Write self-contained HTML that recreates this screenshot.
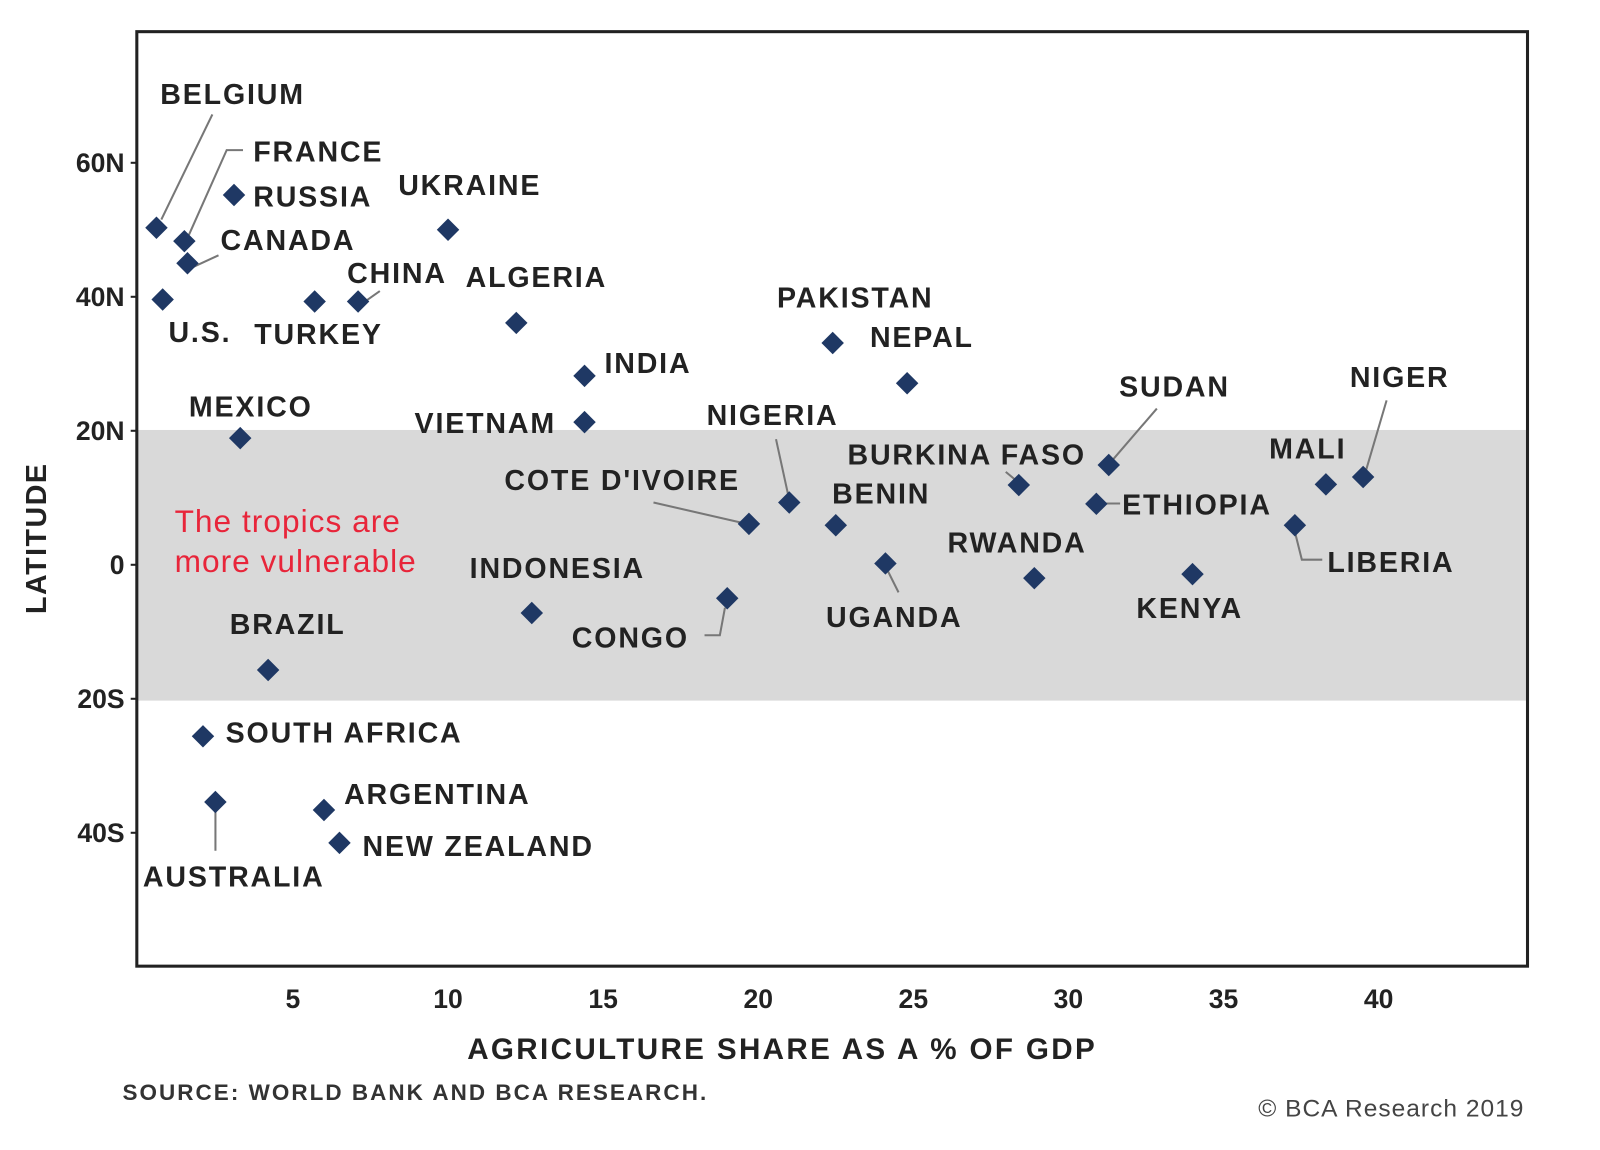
<!DOCTYPE html>
<html><head><meta charset="utf-8"><style>
html,body{margin:0;padding:0;background:#fff}
svg{display:block}
text{font-family:"Liberation Sans",Arial,sans-serif}
.lb{font-weight:bold;font-size:28px;fill:#222;letter-spacing:1.8px}
.ld{stroke:#777;stroke-width:2;fill:none}
</style></head><body>
<svg id="chart" width="1600" height="1150" viewBox="0 0 1567 1126" preserveAspectRatio="none" xmlns="http://www.w3.org/2000/svg">
<rect x="135" y="421" width="1361" height="265" fill="#d9d9d9"/>
<g id="yaxis"></g>
<g id="xaxis"></g>
<g>
<path class="ld" d="M208,112 L158,215"/>
<path class="ld" d="M238,147 L222,147 L185,230"/>
<path class="ld" d="M214,250 L188,262"/>
<path class="ld" d="M372,285 L355,297"/>
<path class="ld" d="M760,430 L772,485"/>
<path class="ld" d="M640,492 L727,512"/>
<path class="ld" d="M985,462 L997,472"/>
<path class="ld" d="M1133,400 L1090,450"/>
<path class="ld" d="M1358,392 L1338,460"/>
<path class="ld" d="M1078,493 L1097,493"/>
<path class="ld" d="M1268,520 L1275,548 L1295,548"/>
<path class="ld" d="M868,556 L880,580"/>
<path class="ld" d="M690,622 L705,622 L710,595"/>
<path class="ld" d="M211,793 L211,833"/>
</g>
<g id="marks"></g>
<g id="labels"></g>
<rect x="134" y="31" width="1362" height="915" fill="none" stroke="#222" stroke-width="3"/>
<text x="171" y="521" font-size="31" letter-spacing="1" fill="#e8253a">The tropics are</text>
<text x="171" y="560" font-size="31" letter-spacing="1" fill="#e8253a">more vulnerable</text>
<text transform="translate(45,527) rotate(-90)" text-anchor="middle" font-size="28" font-weight="bold" letter-spacing="1.5" fill="#222">LATITUDE</text>
<text x="766" y="1037" text-anchor="middle" font-size="29" font-weight="bold" letter-spacing="2.3" fill="#222">AGRICULTURE SHARE AS A % OF GDP</text>
<text x="120" y="1077" font-size="22" font-weight="bold" letter-spacing="2" fill="#333">SOURCE: WORLD BANK AND BCA RESEARCH.</text>
<text x="1493" y="1093" text-anchor="end" font-size="24" letter-spacing="1" fill="#444">© BCA Research 2019</text>
</svg>
<script>
const countries=["BELGIUM","FRANCE","CANADA","RUSSIA","U.S.","TURKEY","CHINA","UKRAINE","ALGERIA","INDIA","VIETNAM","MEXICO","PAKISTAN","NEPAL","NIGERIA","COTE D'IVOIRE","BENIN","UGANDA","BURKINA FASO","SUDAN","ETHIOPIA","RWANDA","KENYA","MALI","NIGER","LIBERIA","INDONESIA","CONGO","BRAZIL","SOUTH AFRICA","AUSTRALIA","ARGENTINA","NEW ZEALAND"];
const agriShare=[0.6,1.5,1.6,3.1,0.8,5.7,7.1,10.0,12.2,14.4,14.4,3.3,22.4,24.8,21.0,19.7,22.5,24.1,28.4,31.3,30.9,28.9,34.0,38.3,39.5,37.3,12.7,19.0,4.2,2.1,2.5,6.0,6.5];
const latitude=[50.3,48.3,45,55.2,39.6,39.3,39.3,50,36.1,28.2,21.3,18.9,33.1,27.1,9.3,6.1,5.9,0.2,11.9,14.9,9.1,-2,-1.4,12.0,13.1,5.9,-7.2,-5.0,-15.7,-25.6,-35.4,-36.6,-41.5];
const xTicks=[5,10,15,20,25,30,35,40];
const yTicks=[60,40,20,0,-20,-40];
const yTickLabels=["60N","40N","20N","0","20S","40S"];
const labelPos=[[157,102],[248,158],[216,245],[248,202],[165,335],[249,337],[340,277],[390,191],[456,281],[592,365],[406,424],[185,408],[761,301],[852,340],[692,416],[494,480],[815,493],[809,614],[830,455],[1096,388],[1099,504],[928,541],[1113,605],[1243,449],[1322,379],[1300,560],[460,566],[560,634],[225,621],[221,727],[140,868],[337,787],[355,838]];
const NS="http://www.w3.org/2000/svg";
function xS(v){return 135+v*30.38;}
function yS(v){return 553-v*6.56;}
function mk(t,a){const e=document.createElementNS(NS,t);for(const k in a)e.setAttribute(k,a[k]);return e;}
const ya=document.getElementById('yaxis'),xa=document.getElementById('xaxis'),mg=document.getElementById('marks'),lg=document.getElementById('labels');
yTicks.forEach((v,i)=>{
 const t=mk('line',{x1:128,x2:135,y1:yS(v),y2:yS(v),stroke:'#222','stroke-width':2});
 
 
 ya.appendChild(t);
 const l=mk('text',{x:122,y:yS(v)+9,'text-anchor':'end','font-size':26,'font-weight':'bold',fill:'#222'});
 
 
 l.textContent=yTickLabels[i];ya.appendChild(l);
});
xTicks.forEach(v=>{
 const l=mk('text',{x:xS(v),y:987,'text-anchor':'middle','font-size':26,'font-weight':'bold',fill:'#222'});
 
 
 l.textContent=v;xa.appendChild(l);
});
countries.forEach((c,i)=>{
 const x=xS(agriShare[i]),y=yS(latitude[i]),s=11;
 const p=mk('polygon',{points:`${x},${y-s} ${x+s},${y} ${x},${y+s} ${x-s},${y}`,fill:'#1f3864'});
 
 
 mg.appendChild(p);
 const t=mk('text',{x:labelPos[i][0],y:labelPos[i][1],class:'lb'});
 
 
 t.textContent=c;lg.appendChild(t);
});
</script>
</body></html>
